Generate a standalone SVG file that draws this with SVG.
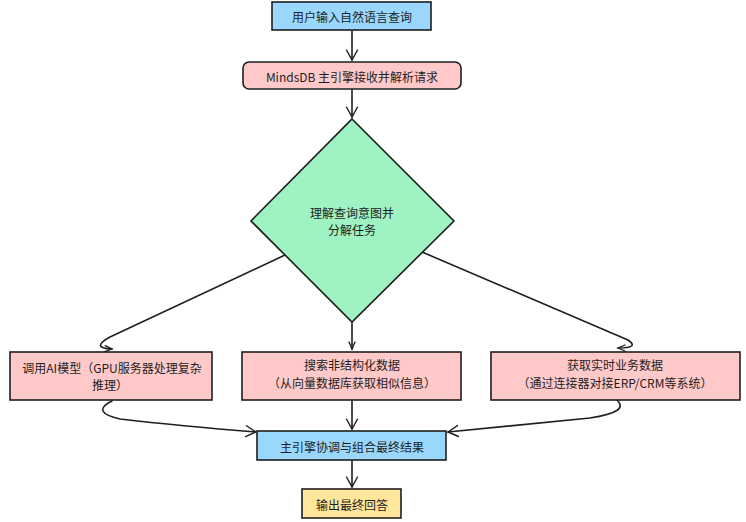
<svg xmlns="http://www.w3.org/2000/svg" width="746" height="522" viewBox="0 0 746 522">
<style>
.n{stroke:#1e1e1e;stroke-width:1.6}
.blue{fill:#99d8fc}
.pink{fill:#ffc9c9}
.green{fill:#9ff2c2}
.yellow{fill:#ffe69a}
text{font-family:"Noto Sans CJK SC","DejaVu Sans",sans-serif;font-size:12px;fill:#1e1e1e;text-anchor:middle;dominant-baseline:central}
.c{fill:none;stroke:#1e1e1e;stroke-width:1.6;stroke-linecap:round;stroke-linejoin:round}
</style>
<defs>
<marker id="ah" markerWidth="14" markerHeight="14" refX="11" refY="7" orient="auto" markerUnits="userSpaceOnUse">
<path d="M1,1.5 L11,7 L1,12.5" fill="none" stroke="#1e1e1e" stroke-width="1.4" stroke-linecap="round"/>
</marker>
<marker id="ahs" markerWidth="10" markerHeight="10" refX="8" refY="5" orient="auto" markerUnits="userSpaceOnUse">
<path d="M1,2 L8,5 L1,8" fill="none" stroke="#1e1e1e" stroke-width="1.3" stroke-linecap="round"/>
</marker>
</defs>
<g id="connectors">
<path class="c" d="M352,31 L352,60" marker-end="url(#ah)"/>
<path class="c" d="M352,90 L352,117" marker-end="url(#ah)"/>
<path class="c" d="M285,255 L110,337 Q90,348 112,349" marker-end="url(#ahs)"/>
<path class="c" d="M352,323 L352,349" marker-end="url(#ahs)"/>
<path class="c" d="M422,252 L628,340 Q640,348 618,348" marker-end="url(#ahs)"/>
<path class="c" d="M112,401 Q90,412 120,419 Q180,426 256,432" marker-end="url(#ah)"/>
<path class="c" d="M352,401 L352,429" marker-end="url(#ah)"/>
<path class="c" d="M617,400 Q630,412 590,418 Q520,425 448,432" marker-end="url(#ah)"/>
<path class="c" d="M352,460 L352,487" marker-end="url(#ah)"/>
</g>
<g id="n1"><rect class="n blue" x="272" y="2" width="159" height="28"/><text x="352" y="16">用户输入自然语言查询</text></g>
<g id="n2"><rect class="n pink" x="243" y="62" width="218" height="27" rx="6"/><text x="352" y="76">MindsDB 主引擎接收并解析请求</text></g>
<g id="n3"><polygon class="n green" points="352,119 454,221 352,322 251,221"/><text x="352" y="212">理解查询意图并</text><text x="352" y="229">分解任务</text></g>
<g id="n4"><rect class="n pink" x="10" y="352" width="202" height="48"/><text x="112" y="367">调用AI模型（GPU服务器处理复杂</text><text x="110" y="384">推理）</text></g>
<g id="n5"><rect class="n pink" x="242" y="352" width="219" height="48"/><text x="352" y="364">搜索非结构化数据</text><text x="352" y="382">（从向量数据库获取相似信息）</text></g>
<g id="n6"><rect class="n pink" x="491" y="352" width="249" height="48"/><text x="615" y="364">获取实时业务数据</text><text x="615" y="382">（通过连接器对接ERP/CRM等系统）</text></g>
<g id="n7"><rect class="n blue" x="257" y="431" width="189" height="29"/><text x="352" y="446">主引擎协调与组合最终结果</text></g>
<g id="n8"><rect class="n yellow" x="302" y="489" width="99" height="29"/><text x="352" y="504">输出最终回答</text></g>
</svg>
